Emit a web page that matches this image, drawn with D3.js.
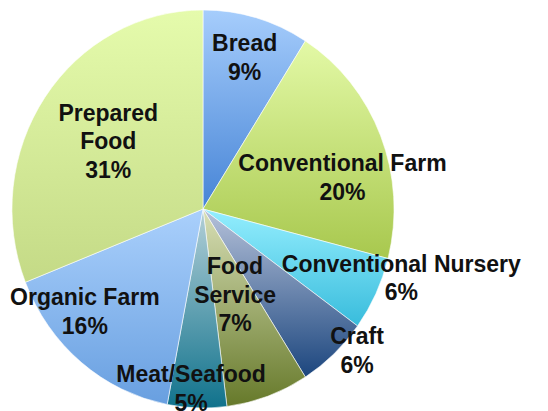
<!DOCTYPE html>
<html>
<head>
<meta charset="utf-8">
<script src="https://cdn.jsdelivr.net/npm/d3@7/dist/d3.min.js"></script>
<style>
  html, body { margin: 0; padding: 0; background: #ffffff; }
  svg { display: block; }
</style>
</head>
<body>
<div id="chart"></div>
<script>
// Vendor categories and their share of the market (percent)
const categories = ["Bread", "Conventional Farm", "Conventional Nursery", "Craft",
                    "Food Service", "Meat/Seafood", "Organic Farm", "Prepared Food"];
const shares = [9, 20, 6, 6, 7, 5, 16, 31];
// Label lines for each slice (category name may wrap)
const labelLines = [["Bread"], ["Conventional Farm"], ["Conventional Nursery"], ["Craft"],
                    ["Food", "Service"], ["Meat/Seafood"], ["Organic Farm"], ["Prepared", "Food"]];

// Gradient colours per slice: [top, bottom]
const gradientStops = [
  ["#a6cdfc", "#4684d6"],
  ["#e3f9a6", "#a8c84e"],
  ["#94eefe", "#38bcdc"],
  ["#b6c2da", "#1c467e"],
  ["#d8dfb6", "#66792a"],
  ["#b4d0d8", "#10728c"],
  ["#aad0fc", "#689fe0"],
  ["#e5fbac", "#c4da86"]
];

// Label nudges relative to each slice's label centroid (pixels)
const labelNudge = [[7, -27], [24, 16], [86, 14], [69, 47], [-10, -36], [-8, 50], [-39, 3], [8, 5]];

const W = 548, H = 411;
const cx = 203, cy = 209;
const R = 199;          // vertical radius
const xStretch = 0.96;  // horizontal squeeze of the pie

const svg = d3.select("#chart").append("svg")
  .attr("width", W).attr("height", H);

const defs = svg.append("defs");
gradientStops.forEach((s, i) => {
  const g = defs.append("linearGradient")
    .attr("id", "grad" + i)
    .attr("x1", 0).attr("y1", 0).attr("x2", 0).attr("y2", 1);
  g.append("stop").attr("offset", "0%").attr("stop-color", s[0]);
  g.append("stop").attr("offset", "100%").attr("stop-color", s[1]);
});

const data = categories.map((c, i) => ({ name: c, value: shares[i], idx: i }));

const pie = d3.pie().value(d => d.value).sort(null);
const arcs = pie(data);

const arc = d3.arc().innerRadius(0).outerRadius(R);
const labelArc = d3.arc().innerRadius(R * 0.65).outerRadius(R * 0.65);

const gPie = svg.append("g")
  .attr("transform", `translate(${cx},${cy}) scale(${xStretch},1)`);

gPie.selectAll("path.slice")
  .data(arcs)
  .join("path")
  .attr("class", "slice")
  .attr("d", arc)
  .attr("fill", d => `url(#grad${d.data.idx})`)
  .attr("stroke", "rgba(255,255,255,0.75)")
  .attr("stroke-width", 0.8);

const fontSize = 23;
const lineH = 28.7;

const gLab = svg.append("g");
arcs.forEach(d => {
  const i = d.data.idx;
  const c = labelArc.centroid(d);
  const ax = cx + c[0] * xStretch + labelNudge[i][0];
  const ay = cy + c[1] + labelNudge[i][1];
  const lines = labelLines[i].concat([d.data.value + "%"]);
  const n = lines.length;
  const t = gLab.append("text")
    .attr("text-anchor", "middle")
    .attr("font-family", "'Liberation Sans', Arial, Helvetica, sans-serif")
    .attr("font-weight", "bold")
    .attr("font-size", fontSize)
    .attr("fill", "#111");
  lines.forEach((ln, k) => {
    t.append("tspan")
      .attr("x", ax)
      .attr("y", ay + 8 + (k - (n - 1) / 2) * lineH)
      .text(ln);
  });
});
</script>
</body>
</html>
